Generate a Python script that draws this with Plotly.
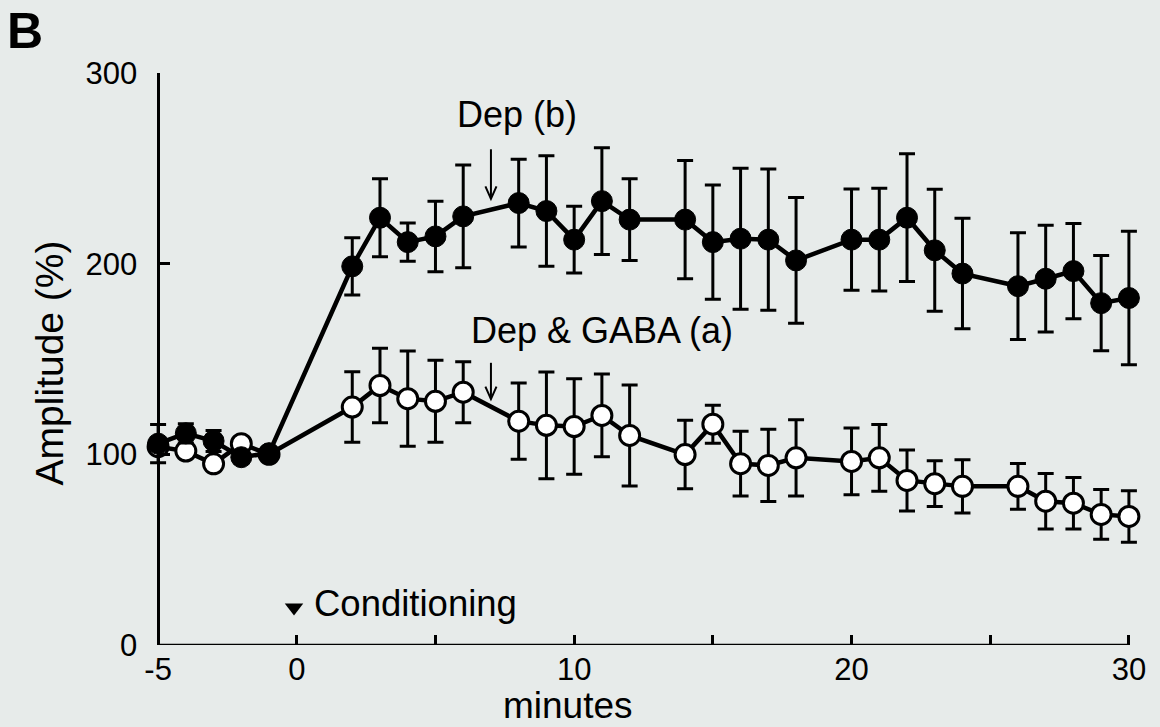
import plotly.graph_objects as go

# ---- data ----
minutes_dep = [-5, -4, -3, -2, -1, 2, 3, 4, 5, 6, 8, 9, 10, 11, 12, 14, 15, 16, 17, 18,
               20, 21, 22, 23, 24, 26, 27, 28, 29, 30]
amp_dep = [105.6, 111, 107, 98.5, 100.6, 198.6, 224.1, 211.3, 214.3, 224.8, 231.8, 227.6,
           212.6, 232.8, 223.1, 223.1, 211.3, 213.1, 212.6, 201.7, 212.6, 212.6, 224.1,
           207, 194.8, 188.2, 192.1, 196.1, 179.3, 182]
err_dep = [10, 5, 5.5, 3, 2, 15, 20.5, 10, 18.5, 27, 23, 29, 17.5, 28, 21.5, 31, 30, 37,
           37, 33, 26.5, 27, 33.5, 32, 29, 28, 28, 25, 25, 35]

minutes_gaba = [-5, -4, -3, -2, -1, 2, 3, 4, 5, 6, 8, 9, 10, 11, 12, 14, 15, 16, 17, 18,
                20, 21, 22, 23, 24, 26, 27, 28, 29, 30]
amp_gaba = [104, 101.7, 95, 105.6, 100, 124.8, 136.1, 129.2, 127.8, 132.6, 117.4, 115.2,
            114.6, 120.4, 109.9, 99.9, 115.8, 95.1, 94.2, 98.2, 96.3, 98.2, 86.3, 84.6,
            83.2, 83.2, 75.4, 74.4, 68.5, 67.4]
err_gaba = [3, 3, 3, 3, 2, 18.5, 19.5, 25, 21.5, 16, 20, 28, 25, 21.7, 26.5, 18, 10, 17,
            19, 20, 17.5, 17.5, 16, 12, 14, 12, 14.5, 13.5, 13, 13.5]

x_tickvals = [-5, 0, 5, 10, 15, 20, 25, 30]
x_ticktext = ["-5", "0", "", "10", "", "20", "", "30"]
y_tickvals = [0, 100, 200, 300]
x_min, x_max = -5, 30
y_min, y_max = 0, 300

# arrows marking the example traces (minute, top, bottom in %)
arrow_dep = (7, 260, 234)
arrow_gaba = (7, 148, 129)
conditioning_mark = (-0.1, 19.7)

FONT = "Liberation Sans, Arial, sans-serif"
BG = "#e7ebea"
PAD = 0.4  # small range padding so end error-bar caps are not clipped
pos_y_axis = PAD / (x_max - x_min + 2 * PAD)

fig = go.Figure()

fig.add_trace(go.Scatter(
    x=minutes_gaba, y=amp_gaba, mode="lines+markers",
    line=dict(color="black", width=4.5),
    marker=dict(symbol="circle", size=20, color="white",
                line=dict(color="black", width=3)),
    error_y=dict(type="data", array=err_gaba, visible=True, color="black",
                 thickness=3, width=8),
    cliponaxis=False, showlegend=False, name="Dep & GABA (a)"))

fig.add_trace(go.Scatter(
    x=minutes_dep, y=amp_dep, mode="lines+markers",
    line=dict(color="black", width=4.5),
    marker=dict(symbol="circle", size=21, color="black",
                line=dict(color="black", width=1)),
    error_y=dict(type="data", array=err_dep, visible=True, color="black",
                 thickness=3, width=8),
    cliponaxis=False, showlegend=False, name="Dep (b)"))

# conditioning marker
fig.add_trace(go.Scatter(
    x=[conditioning_mark[0]], y=[conditioning_mark[1]], mode="markers",
    marker=dict(symbol="triangle-down", size=16, color="black"),
    cliponaxis=False, showlegend=False, hoverinfo="skip"))

shapes = [
    # x axis line between -5 and 30
    dict(type="line", xref="x", yref="y", x0=x_min, x1=x_max, y0=y_min, y1=y_min,
         line=dict(color="black", width=2.5)),
]
for ax_, top, bot in (arrow_dep, arrow_gaba):
    shapes.append(dict(type="line", xref="x", yref="y", x0=ax_, x1=ax_, y0=top, y1=bot,
                       line=dict(color="black", width=2)))
    shapes.append(dict(type="path", xref="x", yref="y",
                       path=f"M {ax_-0.2},{bot+6.5} L {ax_},{bot} L {ax_+0.2},{bot+6.5}",
                       line=dict(color="black", width=2)))

annotations = [
    dict(text="<b>B</b>", x=-0.137, y=1.074, xref="paper", yref="paper",
         showarrow=False, font=dict(size=50, family=FONT, color="black"),
         xanchor="center", yanchor="middle"),
    dict(text="Dep (b)", x=0.3697, y=0.928, xref="paper", yref="paper",
         showarrow=False, font=dict(size=36, family=FONT, color="black"),
         xanchor="center", yanchor="middle"),
    dict(text="Dep &amp; GABA (a)", x=0.457, y=0.550, xref="paper", yref="paper",
         showarrow=False, font=dict(size=36, family=FONT, color="black"),
         xanchor="center", yanchor="middle"),
    dict(text="Conditioning", x=0.1586, y=0.0726, xref="paper", yref="paper",
         showarrow=False, font=dict(size=36.5, family=FONT, color="black"),
         xanchor="left", yanchor="middle"),
    dict(text="minutes", x=0.422, y=-0.1058, xref="paper", yref="paper",
         showarrow=False, font=dict(size=37, family=FONT, color="black"),
         xanchor="center", yanchor="middle"),
    dict(text="Amplitude (%)", x=-0.1123, y=0.494, xref="paper", yref="paper",
         showarrow=False, textangle=-90, font=dict(size=39, family=FONT, color="black"),
         xanchor="center", yanchor="middle"),
]

# convert annotation x positions (given relative to the -5..30 span) to the padded domain
plot_left, plot_w = 158, 971  # pixel position of x=-5 and width of -5..30
l_margin = 147
r_margin = 20
dom_w = 1160 - l_margin - r_margin
for a in annotations:
    px = plot_left + a["x"] * plot_w
    a["x"] = (px - l_margin) / dom_w

fig.update_layout(
    width=1160, height=727,
    margin=dict(l=l_margin, r=r_margin, t=73, b=82),
    paper_bgcolor=BG, plot_bgcolor=BG,
    font=dict(family=FONT, color="black"),
    shapes=shapes, annotations=annotations,
    xaxis=dict(range=[x_min - PAD, x_max + PAD], tickvals=x_tickvals, ticktext=x_ticktext,
               showgrid=False, zeroline=False, showline=False,
               ticks="inside", ticklen=10, tickwidth=2.5,
               tickcolor="black", tickfont=dict(size=31, family=FONT, color="black"),
               ticklabelstandoff=3),
    yaxis=dict(range=[y_min, y_max], tickvals=y_tickvals, showgrid=False, zeroline=False,
               anchor="free", position=pos_y_axis,
               showline=True, linecolor="black", linewidth=2.5, ticks="inside",
               ticklen=10, tickwidth=2.5, tickcolor="black",
               tickfont=dict(size=31, family=FONT, color="black"),
               ticklabelstandoff=14),
)

fig.write_html("out.html")
